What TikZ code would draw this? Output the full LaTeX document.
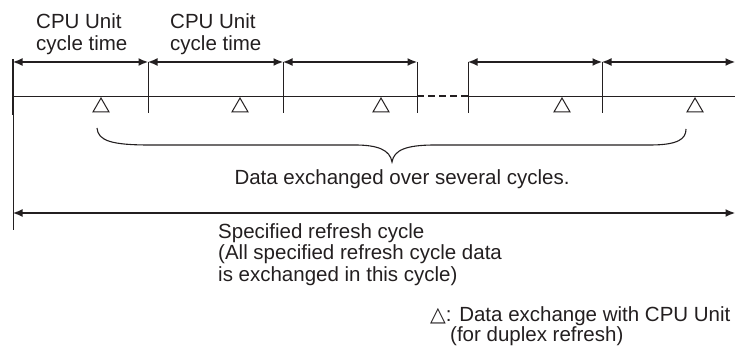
\documentclass[tikz,border=0pt]{standalone}
\usepackage{fontspec}
\setmainfont{Liberation Sans}
\newfontfamily\symfont{DejaVu Sans}
\usetikzlibrary{arrows.meta,shapes.geometric}
\definecolor{ink}{HTML}{231F20}
\begin{document}
\begin{tikzpicture}[x=1pt,y=-1pt,
  txt/.style={anchor=base west,inner sep=0pt,text=ink,font=\fontsize{20.5}{21.5}\selectfont},
  thickarrow/.style={draw=ink,line width=2pt,{Latex[length=10pt,width=8pt]}-{Latex[length=10pt,width=8pt]},shorten <=-0.5pt,shorten >=-0.5pt},
  tick/.style={draw=ink,line width=1pt},
  tri/.style={draw=ink,line width=1pt,regular polygon,regular polygon sides=3,minimum size=18.5pt,inner sep=0pt},
  brace/.style={draw=ink,line width=1.1pt}]
\useasboundingbox (0,0) rectangle (735,352);
% boundary coordinates (top and bottom of ticks)
\foreach \n/\x in {a/13,b/148,c/283,d/417,e/468,f/602,g/735}{
  \coordinate (\n t) at (\x,62);
  \coordinate (\n m) at (\x,96);
  \coordinate (\n b) at (\x,113);
}
\coordinate (aTop) at (13,59);
\coordinate (aThick) at (13,115);
\coordinate (aEnd) at (13,230);
\coordinate (gArrow) at (735,62);
% left vertical line
\draw[ink,line width=2.6pt] (aTop) -- (aThick);
\draw[ink,line width=1pt] (aThick) -- (aEnd);
% ticks
\foreach \n in {b,c,d,e,f}{ \draw[tick] (\n t) -- (\n b); }
% timeline
\draw[ink,line width=0.9pt] (am) -- (dm);
\draw[ink,line width=2pt,dash pattern=on 7pt off 4pt] (dm) -- (em);
\draw[ink,line width=0.9pt] (em) -- (gm);
% cycle arrows
\draw[thickarrow] (at) -- (bt);
\draw[thickarrow] (bt) -- (ct);
\draw[thickarrow] (ct) -- (dt);
\draw[thickarrow] (et) -- (ft);
\draw[thickarrow] (ft) -- (gArrow);
% triangles
\node[tri] (t1) at (101,107.3) {};
\node[tri] (t2) at (240,107.3) {};
\node[tri] (t3) at (381,107.3) {};
\node[tri] (t4) at (562,107.3) {};
\node[tri] (t5) at (695,107.3) {};
% brace
\coordinate (brL) at (97,128);
\coordinate (brTip) at (392,162);
\coordinate (brR) at (686,129);
\draw[brace] (brL) .. controls (98,141) and (112,145) .. (150,145) -- (355,145)
  .. controls (378,145) and (390,150) .. (brTip)
  .. controls (394,150) and (406,145) .. (435,145) -- (650,145)
  .. controls (678,145) and (686,139) .. (brR);
% full refresh arrow
\coordinate (fullL) at (13,213);
\coordinate (fullR) at (735,213);
\draw[thickarrow] (fullL) -- (fullR);
% texts
\node[txt] (cpu1a) at (36,29) {CPU Unit};
\node[txt] (cpu1b) at (36,50.5) {cycle time};
\node[txt] (cpu2a) at (170,29) {CPU Unit};
\node[txt] (cpu2b) at (170,50.5) {cycle time};
\node[txt,anchor=base] (dex) at (402,185) {Data exchanged over several cycles.};
\node[txt] (sr1) at (218,238.5) {Specified refresh cycle};
\node[txt] (sr2) at (218,260) {(All specified refresh cycle data};
\node[txt] (sr3) at (218,281.5) {is exchanged in this cycle)};
\node[txt] (lg1) at (430,321) {{\symfont △}: Data exchange with CPU Unit};
\node[txt] (lg2) at (450,341) {(for duplex refresh)};
\end{tikzpicture}
\end{document}
